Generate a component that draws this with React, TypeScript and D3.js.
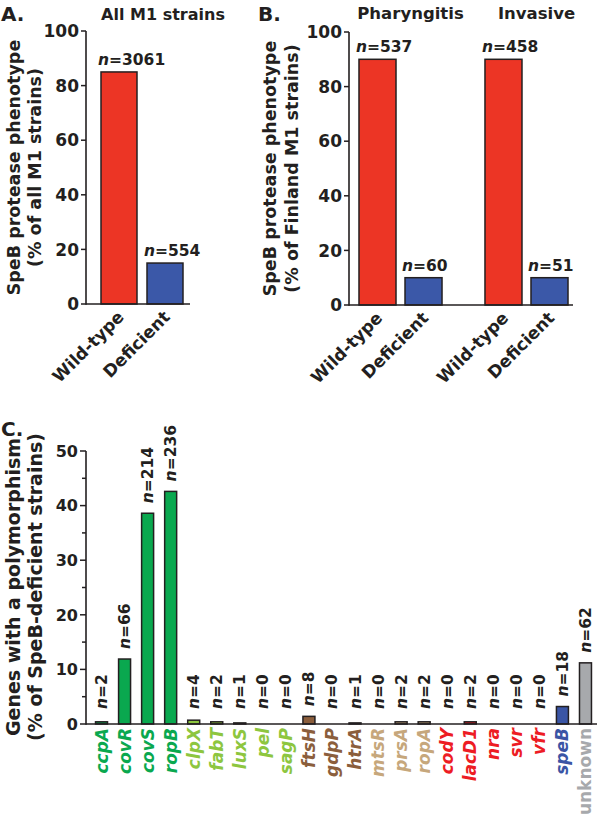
import React from "react";
import * as d3 from "d3";

const phenotypeCats = ["Wild-type", "Deficient"];
const allM1Values = [85, 15];
const allM1N = [3061, 554];

const finlandGroups = ["Pharyngitis", "Invasive"];
const pharyngitisValues = [90, 10];
const pharyngitisN = [537, 60];
const invasiveValues = [90, 10];
const invasiveN = [458, 51];

const genes = ["ccpA", "covR", "covS", "ropB", "clpX", "fabT", "luxS", "pel", "sagP", "ftsH", "gdpP", "htrA", "mtsR", "prsA", "ropA", "codY", "lacD1", "nra", "svr", "vfr", "speB", "unknown"];
const geneValues = [0.4, 11.9, 38.6, 42.6, 0.7, 0.4, 0.2, 0, 0, 1.4, 0, 0.2, 0, 0.4, 0.4, 0, 0.4, 0, 0, 0, 3.2, 11.2];
const geneN = [2, 66, 214, 236, 4, 2, 1, 0, 0, 8, 0, 1, 0, 2, 2, 0, 2, 0, 0, 0, 18, 62];
const geneGroup = [0, 0, 0, 0, 1, 1, 1, 1, 1, 2, 2, 2, 3, 3, 3, 4, 4, 4, 4, 4, 5, 6];

const groupColors = ["#0aa84f", "#8dc63f", "#8b5e3c", "#c6a77c", "#ed1c24", "#3a55a5", "#a7a9ac"];
const RED = "#ec3525";
const BLUE = "#3b58a8";
const FONT = "'DejaVu Sans', sans-serif";

function NLabel({ x, y, n, size = 15.5, anchor = "start", rotate = false }: any) {
  const t = rotate ? `translate(${x},${y}) rotate(-90)` : `translate(${x},${y})`;
  return (
    <text transform={t} fontSize={size} fontWeight="bold" fontFamily={FONT} textAnchor={anchor} fill="#231f20">
      <tspan fontStyle="italic">n</tspan>={n}
    </text>
  );
}

function YAxis({ y, x0, ticks, size, minor = [] as number[], tickLen = 5 }: any) {
  const [r0, r1] = y.range();
  return (
    <g>
      <line x1={x0} x2={x0} y1={r0 + 0.75} y2={r1} stroke="#231f20" strokeWidth={1.6} />
      {ticks.map((t: number) => (
        <g key={t}>
          <line x1={x0 - tickLen} x2={x0} y1={y(t)} y2={y(t)} stroke="#231f20" strokeWidth={1.5} />
          <text x={x0 - tickLen - 2} y={y(t)} dy="0.36em" textAnchor="end" fontSize={size} fontWeight="bold" fontFamily={FONT} fill="#231f20">{t}</text>
        </g>
      ))}
      {minor.map((t: number) => (
        <line key={"m" + t} x1={x0 - 4} x2={x0} y1={y(t)} y2={y(t)} stroke="#231f20" strokeWidth={1.5} />
      ))}
    </g>
  );
}

function YTitle({ lines, cy, xs, size }: any) {
  return (
    <g>
      {lines.map((l: string, i: number) => (
        <text key={i} transform={`translate(${xs[i]},${cy}) rotate(-90)`} textAnchor="middle" fontSize={size} fontWeight="bold" fontFamily={FONT} fill="#231f20">{l}</text>
      ))}
    </g>
  );
}

export default function App() {
  // Panel A
  const yA = d3.scaleLinear().domain([0, 100]).range([304, 31]);
  const xA = d3.scaleBand().domain(phenotypeCats).range([96, 188]).paddingInner(0.2174).paddingOuter(0.1087);

  // Panel B
  const yB = d3.scaleLinear().domain([0, 100]).range([305, 32]);
  const xBOuter = d3.scaleBand().domain(finlandGroups).range([351.5, 575.5]).paddingInner(0.341).paddingOuter(0.0595);
  const xBInner = d3.scaleBand().domain(phenotypeCats).range([0, xBOuter.bandwidth()]).paddingInner(0.1957);
  const bData = [
    { g: finlandGroups[0], values: pharyngitisValues, ns: pharyngitisN },
    { g: finlandGroups[1], values: invasiveValues, ns: invasiveN },
  ];

  // Panel C
  const yC = d3.scaleLinear().domain([0, 50]).range([724, 451]);
  const xC = d3.scaleBand().domain(genes).range([90, 597]).paddingInner(0.48).paddingOuter(0.24);

  const catLabel = (cx: number, y0: number, label: string, key: string) => (
    <text key={key} transform={`translate(${cx + 6},${y0 + 14}) rotate(-45)`} textAnchor="end" fontSize={17} fontWeight="bold" fontFamily={FONT} fill="#231f20">{label}</text>
  );

  return (
    <svg width={600} height={818} style={{ position: "absolute", left: 0, top: 0, background: "#fff" }} fontFamily={FONT}>
      <rect width={600} height={818} fill="#fff" />
      {/* Panel A */}
      <text x={1} y={21} fontSize={20} fontWeight="bold" fill="#231f20">A.</text>
      <text x={163} y={20} textAnchor="middle" fontSize={16} fontWeight="bold" fill="#231f20">All M1 strains</text>
      <YTitle lines={["SpeB protease phenotype", "(% of all M1 strains)"]} cy={167.5} xs={[20, 41]} size={17.5} />
      {phenotypeCats.map((c, i) => (
        <g key={c}>
          <rect x={xA(c)} y={yA(allM1Values[i])} width={xA.bandwidth()} height={yA(0) - yA(allM1Values[i])} fill={i === 0 ? RED : BLUE} stroke="#231f20" strokeWidth={1.5} />
          <NLabel x={(xA(c) as number) - 3} y={yA(allM1Values[i]) - 7} n={allM1N[i]} />
          {catLabel((xA(c) as number) + xA.bandwidth() / 2, yA(0), c, "l" + c)}
        </g>
      ))}
      <line x1={86} x2={190} y1={yA(0)} y2={yA(0)} stroke="#231f20" strokeWidth={1.6} />
      <YAxis y={yA} x0={86} ticks={[0, 20, 40, 60, 80, 100]} size={17} />

      {/* Panel B */}
      <text x={258} y={21} fontSize={20} fontWeight="bold" fill="#231f20">B.</text>
      <YTitle lines={["SpeB protease phenotype", "(% of Finland M1 strains)"]} cy={168.5} xs={[276, 298]} size={17.5} />
      {bData.map((gd) => (
        <g key={gd.g}>
          <text x={(xBOuter(gd.g) as number) + xBOuter.bandwidth() / 2 + 10} y={19} textAnchor="middle" fontSize={16.5} fontWeight="bold" fill="#231f20">{gd.g}</text>
          {phenotypeCats.map((c, i) => {
            const x = (xBOuter(gd.g) as number) + (xBInner(c) as number);
            return (
              <g key={c}>
                <rect x={x} y={yB(gd.values[i])} width={xBInner.bandwidth()} height={yB(0) - yB(gd.values[i])} fill={i === 0 ? RED : BLUE} stroke="#231f20" strokeWidth={1.5} />
                <NLabel x={x - 3} y={yB(gd.values[i]) - 7} n={gd.ns[i]} />
                {catLabel(x + xBInner.bandwidth() / 2, yB(0), c, "l" + c)}
              </g>
            );
          })}
        </g>
      ))}
      <line x1={349} x2={573} y1={yB(0)} y2={yB(0)} stroke="#231f20" strokeWidth={1.6} />
      <YAxis y={yB} x0={349} ticks={[0, 20, 40, 60, 80, 100]} size={17} />

      {/* Panel C */}
      <text x={1} y={436} fontSize={20} fontWeight="bold" fill="#231f20">C.</text>
      <YTitle lines={["Genes with a polymorphism", "(% of SpeB-deficient strains)"]} cy={587} xs={[20, 42]} size={19} />
      {genes.map((g, i) => {
        const cx = (xC(g) as number) + xC.bandwidth() / 2;
        const v = geneValues[i];
        const col = groupColors[geneGroup[i]];
        const top = yC(v);
        const labelY = Math.min(top - 10, yC(0) - 15);
        return (
          <g key={g}>
            {v > 0 && (
              <rect x={xC(g)} y={top} width={xC.bandwidth()} height={yC(0) - top} fill={col} stroke="#231f20" strokeWidth={1.5} />
            )}
            <NLabel x={cx + 5.5} y={labelY} n={geneN[i]} rotate size={15.5} />
            <text transform={`translate(${cx + 6},${728}) rotate(-90)`} textAnchor="end" fontSize={17} fontWeight="bold" fontStyle={g === "unknown" ? "normal" : "italic"} fill={col}>{g}</text>
          </g>
        );
      })}
      <line x1={86} x2={597} y1={yC(0)} y2={yC(0)} stroke="#231f20" strokeWidth={1.6} />
      <YAxis y={yC} x0={86} ticks={[0, 10, 20, 30, 40, 50]} minor={[5, 15, 25, 35, 45]} size={16} tickLen={6} />
    </svg>
  );
}
